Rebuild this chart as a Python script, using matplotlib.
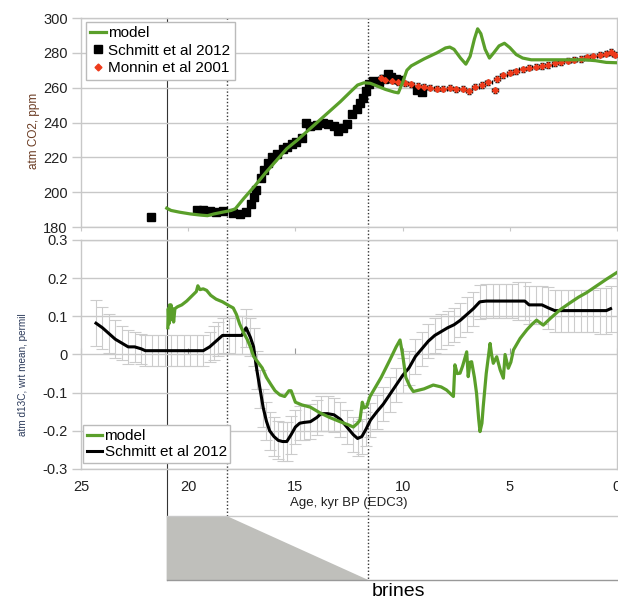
import matplotlib
matplotlib.use("Agg")
import matplotlib.pyplot as plt
from matplotlib.transforms import blended_transform_factory
from matplotlib.lines import Line2D

plt.rcParams['font.family'] = ['Liberation Sans', 'DejaVu Sans']

# ---- top panel: atmospheric CO2 ----
model_co2_age = [21.0, 20.8, 20.4, 19.9, 19.4, 19.1, 18.8, 18.4, 18.0, 17.8, 17.4, 16.9, 16.4,
                 15.9, 15.4, 14.9, 14.4, 13.9, 13.4, 12.9, 12.4, 12.1, 11.8, 11.5, 11.2, 10.8,
                 10.4, 10.2, 10.0, 9.8, 9.6, 9.0, 8.4, 8.0, 7.8, 7.6, 7.3, 7.05, 6.85, 6.65,
                 6.5, 6.35, 6.15, 5.95, 5.75, 5.5, 5.25, 5.0, 4.7, 4.4, 4.0, 3.5, 3.0, 2.5,
                 2.0, 1.5, 1.0, 0.5, 0.0]
model_co2 = [190.8, 189.5, 188.5, 187.5, 186.8, 186.5, 187.5, 188.5, 189.5, 190.5, 196.5, 203.5,
             211.0, 218.0, 225.0, 230.0, 235.5, 241.0, 246.5, 252.0, 258.0, 261.5, 262.8, 262.5,
             261.0, 259.0, 257.5, 257.0, 263.0, 270.0, 272.5, 276.5, 280.0, 282.8, 283.3, 282.0,
             277.0, 273.5, 278.0, 288.0, 293.8, 291.0, 282.0, 277.0, 280.0, 284.0, 285.5, 283.0,
             279.0, 277.0, 276.0, 276.0, 276.0, 276.0, 276.0, 276.0, 275.5, 274.5, 274.3]

schmitt_co2_age = [21.75, 19.6, 19.3, 19.0, 18.7, 18.4, 17.9, 17.6, 17.3, 17.05, 16.95, 16.85,
                   16.6, 16.45, 16.3, 16.1, 15.85, 15.6, 15.4, 15.15, 14.95, 14.7, 14.5, 14.3,
                   14.0, 13.7, 13.5, 13.2, 13.0, 12.8, 12.6, 12.35, 12.15, 12.0, 11.85, 11.7,
                   11.55, 11.4, 11.1, 10.85, 10.7, 10.55, 10.3, 10.1, 9.35, 9.1]
schmitt_co2 = [185.5, 190.0, 189.5, 189.0, 188.5, 189.0, 188.0, 187.5, 188.5, 193.0, 197.0, 201.0,
               208.0, 213.0, 217.0, 220.0, 222.0, 224.5, 226.0, 227.5, 229.0, 231.0, 240.0, 238.0,
               238.5, 240.0, 239.0, 238.0, 235.0, 237.0, 239.0, 245.0, 248.0, 251.0, 254.0, 258.0,
               262.0, 264.0, 263.0, 265.0, 268.0, 266.0, 265.0, 264.5, 258.5, 257.5]

monnin_age = [11.0, 10.8, 10.5, 10.2, 9.9, 9.6, 9.3, 9.0, 8.7, 8.4, 8.1, 7.8, 7.5, 7.2, 6.9,
              6.6, 6.3, 6.0, 5.7, 5.6, 5.3, 5.0, 4.7, 4.4, 4.1, 3.8, 3.5, 3.2, 2.9, 2.6, 2.3,
              2.0, 1.7, 1.4, 1.1, 0.8, 0.5, 0.3, 0.1]
monnin_co2 = [265.5, 264.5, 264.0, 263.0, 262.5, 262.0, 261.0, 260.5, 260.0, 259.5, 259.5, 260.0,
              259.0, 259.5, 258.0, 260.5, 261.5, 263.0, 258.5, 265.0, 267.0, 268.5, 269.5, 270.5,
              271.5, 272.0, 272.5, 273.0, 274.0, 274.5, 275.5, 276.0, 276.5, 277.5, 278.0, 279.0,
              279.5, 280.5, 279.0]

# ---- bottom panel: atmospheric d13C ----
model_d13c_age = [20.95, 20.93, 20.9, 20.87, 20.83, 20.8, 20.75, 20.72, 20.68, 20.62, 20.5, 20.3,
                  20.07, 19.8, 19.62, 19.55, 19.45, 19.3, 19.14, 18.95, 18.7, 18.4, 18.1, 17.9,
                  17.75, 17.6, 17.4, 17.25, 17.1, 16.95, 16.75, 16.55, 16.35, 16.15, 15.95, 15.72,
                  15.5, 15.3, 15.2, 15.0, 14.7, 14.3, 14.0, 13.85, 13.4, 12.92, 12.5, 12.3, 12.1,
                  11.99, 11.88, 11.8, 11.68, 11.52, 11.0, 10.6, 10.3, 10.12, 10.0, 9.85, 9.66,
                  9.5, 9.0, 8.57, 8.2, 7.95, 7.63, 7.56, 7.45, 7.32, 7.2, 7.01, 6.94, 6.85, 6.78,
                  6.65, 6.55, 6.45, 6.39, 6.3, 6.24, 6.1, 5.92, 5.85, 5.77, 5.61, 5.45, 5.3, 5.22,
                  5.07, 4.95, 4.83, 4.52, 4.2, 3.95, 3.75, 3.44, 3.1, 2.66, 2.2, 1.8, 1.42, 1.0,
                  0.5, 0.0]
model_d13c = [0.07, 0.12, 0.08, 0.13, 0.09, 0.13, 0.10, 0.12, 0.085, 0.12, 0.125, 0.13,
              0.14, 0.155, 0.165, 0.18, 0.17, 0.172, 0.168, 0.155, 0.145, 0.138, 0.128, 0.122,
              0.105, 0.08, 0.055, 0.04, 0.02, -0.005, -0.02, -0.035, -0.06, -0.078, -0.095, -0.106,
              -0.11, -0.095, -0.095, -0.125, -0.132, -0.138, -0.148, -0.153, -0.165, -0.176, -0.185,
              -0.19, -0.18, -0.172, -0.125, -0.14, -0.137, -0.11, -0.06, -0.015, 0.02, 0.038, 0.0,
              -0.06, -0.084, -0.097, -0.09, -0.08, -0.085, -0.093, -0.11, -0.027, -0.05, -0.049,
              -0.03, 0.007, -0.058, -0.02, -0.019, -0.06, -0.102, -0.17, -0.202, -0.18, -0.137,
              -0.05, 0.029, 0.0, -0.023, -0.006, -0.04, -0.062, 0.0, -0.036, -0.02, 0.012, 0.042,
              0.065, 0.08, 0.09, 0.077, 0.095, 0.117, 0.135, 0.15, 0.162, 0.178, 0.197, 0.215]

schmitt_d13c_age = [24.3, 24.0, 23.7, 23.4, 23.1, 22.8, 22.5, 22.2, 22.0, 21.7, 21.4, 21.1, 20.8,
                    20.5, 20.2, 19.9, 19.6, 19.3, 19.0, 18.8, 18.6, 18.4, 18.1, 17.8, 17.5, 17.3,
                    17.1, 16.95, 16.8, 16.65, 16.5, 16.35, 16.2, 16.0, 15.8, 15.6, 15.4, 15.2, 15.0,
                    14.8, 14.6, 14.3, 14.0, 13.8, 13.5, 13.2, 12.9, 12.6, 12.3, 12.1, 11.9, 11.7,
                    11.5, 11.2, 10.9, 10.6, 10.3, 10.0, 9.7, 9.4, 9.1, 8.8, 8.5, 8.2, 7.9, 7.6,
                    7.3, 7.0, 6.7, 6.4, 6.1, 5.8, 5.5, 5.2, 4.9, 4.6, 4.3, 4.1, 3.8, 3.5, 3.2, 2.9,
                    2.6, 2.3, 2.0, 1.7, 1.4, 1.1, 0.8, 0.5, 0.3]
schmitt_d13c = [0.082, 0.07, 0.055, 0.04, 0.03, 0.02, 0.02, 0.015, 0.01, 0.01, 0.01, 0.01, 0.01,
                0.01, 0.01, 0.01, 0.01, 0.01, 0.02, 0.03, 0.04, 0.05, 0.05, 0.05, 0.05, 0.07,
                0.045, 0.02, -0.04, -0.09, -0.14, -0.175, -0.2, -0.215, -0.225, -0.228, -0.228,
                -0.21, -0.19, -0.18, -0.178, -0.176, -0.165, -0.155, -0.155, -0.158, -0.17, -0.19,
                -0.21, -0.22, -0.215, -0.195, -0.172, -0.15, -0.13, -0.105, -0.08, -0.055, -0.035,
                -0.005, 0.015, 0.035, 0.05, 0.06, 0.07, 0.078, 0.09, 0.105, 0.12, 0.138, 0.14,
                0.14, 0.14, 0.14, 0.14, 0.14, 0.14, 0.13, 0.13, 0.13, 0.122, 0.115, 0.115, 0.115,
                0.115, 0.115, 0.115, 0.115, 0.115, 0.115, 0.12]
schmitt_d13c_err = [0.06, 0.055, 0.05, 0.05, 0.045, 0.045, 0.04, 0.04, 0.04, 0.04, 0.04, 0.04, 0.04,
                    0.04, 0.04, 0.04, 0.04, 0.04, 0.04, 0.045, 0.045, 0.045, 0.045, 0.05, 0.05, 0.05,
                    0.05, 0.05, 0.05, 0.05, 0.05, 0.05, 0.05, 0.05, 0.05, 0.05, 0.05, 0.05, 0.045,
                    0.045, 0.045, 0.045, 0.045, 0.045, 0.045, 0.045, 0.045, 0.045, 0.045, 0.045,
                    0.045, 0.045, 0.045, 0.045, 0.045, 0.045, 0.045, 0.045, 0.045, 0.045, 0.045,
                    0.045, 0.045, 0.045, 0.045, 0.045, 0.045, 0.045, 0.045, 0.045, 0.045, 0.045,
                    0.045, 0.045, 0.045, 0.05, 0.05, 0.05, 0.05, 0.05, 0.055, 0.055, 0.055, 0.055,
                    0.055, 0.055, 0.055, 0.055, 0.06, 0.06, 0.06]

co2_ticks = [180, 200, 220, 240, 260, 280, 300]
d13c_ticks = [-0.3, -0.2, -0.1, 0.0, 0.1, 0.2, 0.3]
d13c_labels = ['-0.3', '-0.2', '-0.1', '0', '0.1', '0.2', '0.3']
age_ticks = [25, 20, 15, 10, 5, 0]

# event lines (kyr BP): start of brines, end of full brines, end of brines
brine_start = 21.0
brine_full_end = 18.2
brine_end = 11.6

GREEN = '#5a9f2a'
GRID = '#c8c8c8'
RED = '#ee3b1b'

fig = plt.figure(figsize=(6.18, 6.0), dpi=100)
W, H = 618.0, 600.0
left, right = 81 / W, 617 / W
ax1 = fig.add_axes([left, 1 - 227 / H, right - left, 209 / H])
ax2 = fig.add_axes([left, 1 - 469 / H, right - left, 229 / H])
ax3 = fig.add_axes([left, 1 - 580 / H, right - left, 64 / H])

for ax in (ax1, ax2, ax3):
    ax.set_xlim(25, 0)
    ax.patch.set_alpha(0)

def style(ax):
    for s in ax.spines.values():
        s.set_color(GRID)
        s.set_linewidth(1.0)
    ax.yaxis.grid(True, color=GRID, lw=1.0)
    ax.set_axisbelow(True)
    ax.tick_params(axis='y', direction='out', length=6.5, width=1.0, color=GRID,
                   labelsize=10.5, pad=3, labelcolor='#222222')

# top panel
style(ax1)
ax1.set_ylim(180, 300)
ax1.set_yticks(co2_ticks)
ax1.set_xticks(age_ticks)
ax1.tick_params(axis='x', direction='out', length=3, color=GRID, labelbottom=False)
ax1.errorbar(monnin_age, monnin_co2, xerr=0.15, yerr=1.5, fmt='D', ms=3, color=RED,
             ecolor='black', elinewidth=0.9, capsize=1.5, zorder=3)
ax1.plot(schmitt_co2_age, schmitt_co2, 's', ms=6, color='black', zorder=3)
ax1.plot(model_co2_age, model_co2, color=GREEN, lw=2.3, zorder=4)
ax1.set_ylabel('atm CO2, ppm', fontsize=8.5, color='#6a3b22')
ax1.yaxis.set_label_coords(-0.076, 0.46)
handles1 = [Line2D([], [], color=GREEN, lw=2.3),
            Line2D([], [], ls='none', marker='s', ms=6, color='black'),
            Line2D([], [], ls='none', marker='D', ms=3.5, color=RED)]
labels1 = ['model', 'Schmitt et al 2012', 'Monnin et al 2001']
leg1 = ax1.legend(handles1, labels1, loc='upper left', bbox_to_anchor=(0.009, 0.982),
                  fontsize=11, frameon=True, fancybox=False, framealpha=1,
                  edgecolor='#bbbbbb', handlelength=1.0, handletextpad=0.15,
                  borderpad=0.3, labelspacing=0.22, borderaxespad=0)
leg1.get_frame().set_linewidth(1.0)
leg1.set_zorder(10)

# bottom panel
style(ax2)
ax2.set_ylim(-0.3, 0.3)
ax2.set_yticks(d13c_ticks)
ax2.set_yticklabels(d13c_labels)
ax2.set_xticks(age_ticks)
ax2.set_xticklabels([str(a) for a in age_ticks])
ax2.tick_params(axis='x', direction='out', length=0, pad=8, labelsize=10.5,
                labelcolor='#222222')
sec = ax2.secondary_xaxis(0.5)
sec.set_xticks(age_ticks)
sec.tick_params(axis='x', direction='out', length=4, color='#999999', labelbottom=False,
                labeltop=False)
sec.spines['top'].set_visible(False)
sec.spines['bottom'].set_visible(False)
ax2.errorbar(schmitt_d13c_age, schmitt_d13c, yerr=schmitt_d13c_err, fmt='none',
             ecolor='#cccccc', elinewidth=0.8, capsize=4, capthick=0.8, zorder=2)
ax2.plot(model_d13c_age, model_d13c, color=GREEN, lw=2.3, zorder=4, label='model')
ax2.plot(schmitt_d13c_age, schmitt_d13c, color='black', lw=2.2, zorder=3,
         label='Schmitt et al 2012')
ax2.set_ylabel('atm d13C, wrt mean, permil', fontsize=7.2, color='#2b3a5a')
ax2.yaxis.set_label_coords(-0.099, 0.41)
ax2.set_xlabel('Age, kyr BP (EDC3)', fontsize=9.5, color='#222222', labelpad=2)
leg2 = ax2.legend(loc='lower left', bbox_to_anchor=(0.004, 0.025), fontsize=11, frameon=True,
                  fancybox=False, framealpha=1, edgecolor='#bbbbbb', handlelength=1.0,
                  handletextpad=0.15, borderpad=0.25, labelspacing=0.15, borderaxespad=0)
leg2.get_frame().set_linewidth(1.0)
leg2.set_zorder(10)

# brine schematic
ax3.set_ylim(0, 1)
ax3.axis('off')
ax3.fill([brine_start, brine_full_end, brine_end, brine_start], [1, 1, 0, 0],
         color='#bfbfbb', lw=0)
ax3.plot([brine_start, 0], [1, 1], color=GRID, lw=1.0, clip_on=False)
ax3.plot([brine_start, 0], [0, 0], color='#999999', lw=1.0, clip_on=False)
fig.text(398 / W, 1 - 583 / H, 'brines', fontsize=14, ha='center', va='top', color='black')

# vertical event lines across all panels
tr = blended_transform_factory(ax1.transData, fig.transFigure)
fig.add_artist(Line2D([brine_start, brine_start], [1 - 18 / H, 1 - 580 / H], transform=tr,
                      color='#333333', lw=0.8, zorder=-1))
fig.add_artist(Line2D([brine_full_end, brine_full_end], [1 - 18 / H, 1 - 516 / H],
                      transform=tr, color='#333333', lw=1.0, ls=(0, (1, 1.5)), zorder=-1))
fig.add_artist(Line2D([brine_end, brine_end], [1 - 18 / H, 1 - 580 / H], transform=tr,
                      color='#333333', lw=1.0, ls=(0, (1, 1.5)), zorder=-1))

fig.savefig('out.png', dpi=100, facecolor='white')
